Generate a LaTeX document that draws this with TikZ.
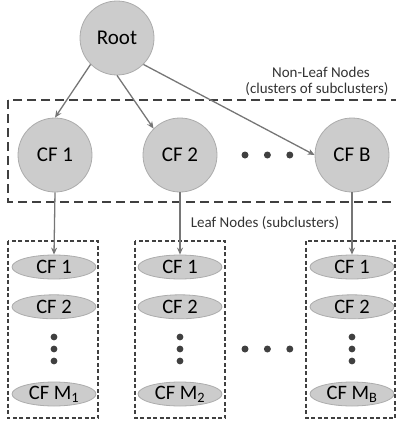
\documentclass[tikz,border=0pt]{standalone}
\usepackage{fontspec}
\setmainfont{Carlito}
\usetikzlibrary{positioning,arrows.meta,shapes.geometric}

\definecolor{nodefill}{RGB}{204,204,204}
\definecolor{nodeline}{RGB}{172,172,172}
\definecolor{arrowgray}{RGB}{118,118,118}
\definecolor{dashgray}{RGB}{64,64,64}

\begin{document}
\begin{tikzpicture}[x=1pt,y=-1pt,
  main/.style = {draw=nodeline, line width=0.8pt, circle, fill=nodefill, minimum size=74pt, inner sep=0pt, font=\fontsize{21}{24}\selectfont},
  leaf/.style = {draw=nodeline, line width=0.8pt, ellipse, fill=nodefill, minimum width=84pt, minimum height=24pt, inner sep=0pt, font=\fontsize{20.5}{24}\selectfont},
  link/.style = {draw=arrowgray, line width=1.3pt, -{Stealth[length=7pt,width=6pt]}},
  bigbox/.style = {draw=dashgray, line width=1.8pt, dash pattern=on 9pt off 5pt},
  smallbox/.style = {draw=dashgray, line width=1.5pt, dash pattern=on 4pt off 2.5pt},
  dot/.style = {circle, fill=dashgray, inner sep=0pt, minimum size=7pt},
  label/.style = {font=\fontsize{15}{18}\selectfont, text=black!80}]
\clip (0,0) rectangle (396,423);

\node[main] (root) at (117,38) {Root};
\node[main] (cf1) at (55,155) {CF 1};
\node[main] (cf2) at (180,155) {CF 2};
\node[main] (cfb) at (352,155) {CF B};
\node[dot] (d1) at (245,155) {};
\node[dot] (d2) [right=15pt of d1] {};
\node[dot] (d3) [right=15pt of d2] {};

\node[label] (nl1) at (321,72) {Non-Leaf Nodes};
\node[label] (nl2) at (317,89) {(clusters of subclusters)};
\node[label] (lf) at (265,223) {Leaf Nodes (subclusters)};

% leaf columns
\node[leaf] (a1) at (54,267) {CF 1};
\node[leaf] (a2) [below=15pt of a1] {CF 2};
\node[leaf] (am) at (54,394) {CF M\textsubscript{1}};
\node[leaf] (b1) at (180,267) {CF 1};
\node[leaf] (b2) [below=15pt of b1] {CF 2};
\node[leaf] (bm) at (180,394) {CF M\textsubscript{2}};
\node[leaf] (c1) at (352,267) {CF 1};
\node[leaf] (c2) [below=15pt of c1] {CF 2};
\node[leaf] (cm) at (352,394) {CF M\textsubscript{B}};

\foreach \x in {54,180,352}
  \foreach \y in {337,349,361}
    \fill[dashgray] (\x,\y) circle (3.4pt);
\node[dot] (e1) at (245,349) {};
\node[dot] (e2) [right=15pt of e1] {};
\node[dot] (e3) [right=15pt of e2] {};

\draw[bigbox] (8,100) rectangle (410,202);
\draw[smallbox] (8,241) rectangle (98,418);
\draw[smallbox] (135,241) rectangle (225,418);
\draw[smallbox] (306,241) rectangle (395,418);

\draw[link] (root.south west) -- (cf1.north);
\draw[link] (root.south) -- (cf2.north west);
\draw[link] (root.south east) -- (cfb.west);
\draw[link] (cf1.south) -- (a1.north);
\draw[link] (cf2.south) -- (b1.north);
\draw[link] (cfb.south) -- (c1.north);
\end{tikzpicture}
\end{document}
